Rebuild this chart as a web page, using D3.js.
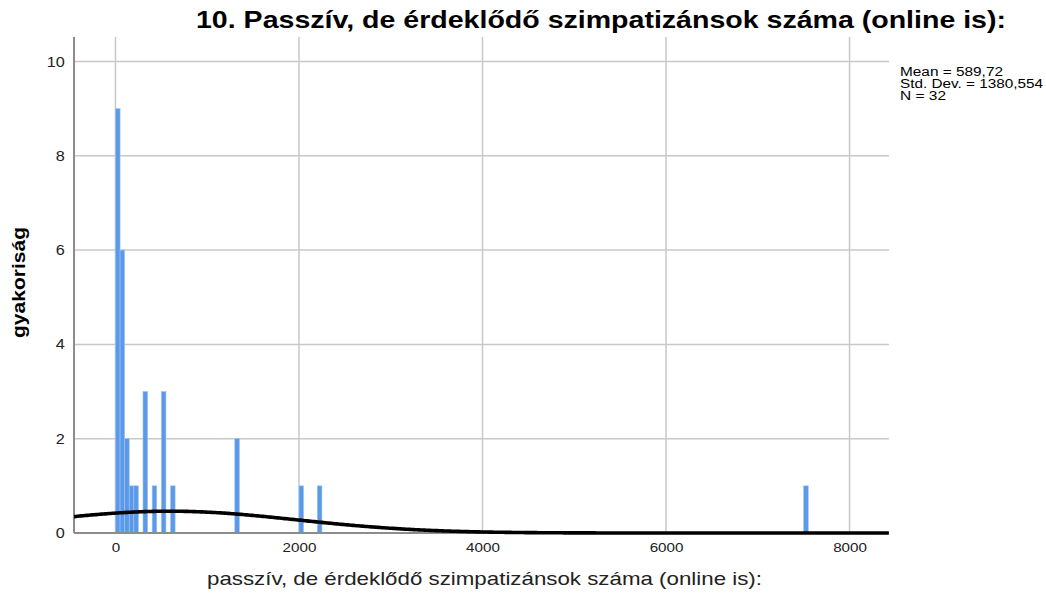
<!DOCTYPE html>
<html>
<head>
<meta charset="utf-8">
<script src="https://cdn.jsdelivr.net/npm/d3@7"></script>
<style>
  body { margin: 0; background: #fff; }
  svg { display: block; font-family: "Liberation Sans", Arial, sans-serif; }
</style>
</head>
<body>
<svg width="1046" height="596"></svg>
<script>
// histogram bins: left edge of each bin (bin width 50) and its count
const binStarts = [0, 50, 100, 150, 200, 300, 400, 500, 600, 1300, 2000, 2200, 7500];
const binCounts = [9, 6, 2, 1, 1, 3, 1, 3, 1, 2, 1, 1, 1];
const binWidth = 50;
const xTicks = [0, 2000, 4000, 6000, 8000];
const yTicks = [0, 2, 4, 6, 8, 10];
const stats = { mean: 589.72, sd: 1380.554, n: 32 };
const statLines = ['Mean = 589,72', 'Std. Dev. = 1380,554', 'N = 32'];
const statWidths = [103, 143, 46];

const svg = d3.select('svg');
const margin = { left: 74, right: 157, top: 37, bottom: 63 };
const width = 1046 - margin.left - margin.right;
const height = 596 - margin.top - margin.bottom;

const x = d3.scaleLinear().domain([-452, 8430]).range([0, width]);
const y = d3.scaleLinear().domain([0, 10.52]).range([height, 0]);

const g = svg.append('g').attr('transform', `translate(${margin.left},${margin.top})`);

// grid lines
g.append('g').selectAll('line')
  .data(yTicks.filter(d => d > 0))
  .join('line')
  .attr('x1', 0).attr('x2', width)
  .attr('y1', d => y(d)).attr('y2', d => y(d))
  .attr('stroke', '#c8c8c8').attr('stroke-width', 1.5);

g.append('g').selectAll('line')
  .data(xTicks)
  .join('line')
  .attr('x1', d => x(d)).attr('x2', d => x(d))
  .attr('y1', 0).attr('y2', height)
  .attr('stroke', '#c8c8c8').attr('stroke-width', 1.5);

// bars
g.append('g').selectAll('rect')
  .data(binStarts.map((s, i) => ({ s, c: binCounts[i] })))
  .join('rect')
  .attr('x', d => x(d.s))
  .attr('width', d => x(d.s + binWidth) - x(d.s))
  .attr('y', d => y(d.c))
  .attr('height', d => y(0) - y(d.c))
  .attr('fill', '#5b9ae8')
  .attr('stroke', '#9cc2f2')
  .attr('stroke-width', 0.6);

// axes lines
g.append('line').attr('x1', 0).attr('x2', 0).attr('y1', 0).attr('y2', height)
  .attr('stroke', '#8c8c8c').attr('stroke-width', 2);
g.append('line').attr('x1', 0).attr('x2', width).attr('y1', height).attr('y2', height)
  .attr('stroke', '#8c8c8c').attr('stroke-width', 2);

// fitted normal curve from the reported mean / sd
const scaleN = stats.n * binWidth / (stats.sd * Math.sqrt(2 * Math.PI));
const curveX = d3.range(x.domain()[0], x.domain()[1] + 1, 20);
g.append('path')
  .datum(curveX)
  .attr('d', d3.line()
    .x(d => x(d))
    .y(d => y(scaleN * Math.exp(-0.5 * ((d - stats.mean) / stats.sd) ** 2))))
  .attr('fill', 'none')
  .attr('stroke', '#000')
  .attr('stroke-width', 3.6);

// tick labels
const yAxis = d3.axisLeft(y).tickValues(yTicks).tickSize(0).tickPadding(8);
g.append('g').call(yAxis)
  .call(a => a.select('.domain').remove())
  .selectAll('text').attr('font-size', 14).attr('fill', '#222')
  .attr('font-family', '"Liberation Sans", Arial, sans-serif')
  .attr('transform', 'scale(1.16,1)');

const xAxis = d3.axisBottom(x).tickValues(xTicks).tickSize(0).tickPadding(10).tickFormat(d3.format('d'));
g.append('g').attr('transform', `translate(0,${height})`).call(xAxis)
  .call(a => a.select('.domain').remove())
  .selectAll('text').attr('font-size', 13).attr('fill', '#222')
  .attr('font-family', '"Liberation Sans", Arial, sans-serif')
  .attr('transform', 'scale(1.17,1)');

// title & labels
svg.append('text')
  .attr('x', 601).attr('y', 28)
  .attr('text-anchor', 'middle')
  .attr('font-size', 24).attr('font-weight', 'bold')
  .attr('textLength', 810).attr('lengthAdjust', 'spacingAndGlyphs')
  .text('10. Passzív, de érdeklődő szimpatizánsok száma (online is):');

svg.append('text')
  .attr('transform', 'translate(25,282.5) rotate(-90)')
  .attr('text-anchor', 'middle')
  .attr('font-size', 18).attr('font-weight', 'bold')
  .attr('textLength', 111).attr('lengthAdjust', 'spacingAndGlyphs')
  .text('gyakoriság');

svg.append('text')
  .attr('x', 484.5).attr('y', 585)
  .attr('text-anchor', 'middle')
  .attr('font-size', 19).attr('fill', '#222')
  .attr('textLength', 555).attr('lengthAdjust', 'spacingAndGlyphs')
  .text('passzív, de érdeklődő szimpatizánsok száma (online is):');

svg.append('g').selectAll('text')
  .data(statLines)
  .join('text')
  .attr('x', 900)
  .attr('y', (d, i) => 75.5 + i * 12)
  .attr('font-size', 12.5)
  .attr('textLength', (d, i) => statWidths[i]).attr('lengthAdjust', 'spacingAndGlyphs')
  .text(d => d);
</script>
</body>
</html>
